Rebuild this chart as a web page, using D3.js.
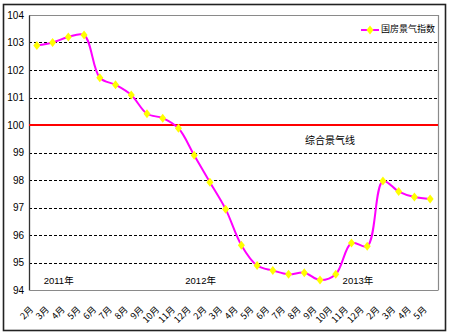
<!DOCTYPE html>
<html>
<head>
<meta charset="utf-8">
<script src="https://cdn.jsdelivr.net/npm/d3@7/dist/d3.min.js"></script>
<style>
  html, body { margin: 0; padding: 0; background: #fff; }
  svg { display: block; }
  text { font-family: Arial, "Liberation Sans", "Noto Sans CJK SC", sans-serif; fill: #000; }
</style>
</head>
<body>
<div id="chart"></div>
<script>
// Months in the series (January is merged into February each year)
const categories = [
  "2011-02","2011-03","2011-04","2011-05","2011-06","2011-07","2011-08","2011-09","2011-10","2011-11","2011-12",
  "2012-02","2012-03","2012-04","2012-05","2012-06","2012-07","2012-08","2012-09","2012-10","2012-11","2012-12",
  "2013-02","2013-03","2013-04","2013-05"
];
const monthLabels = [
  "2月","3月","4月","5月","6月","7月","8月","9月","10月","11月","12月",
  "2月","3月","4月","5月","6月","7月","8月","9月","10月","11月","12月",
  "2月","3月","4月","5月"
];
// 国房景气指数
const indexValues = [
  102.89, 103.0, 103.2, 103.27, 101.72, 101.46, 101.09, 100.41, 100.25, 99.88, 98.9,
  97.92, 96.94, 95.63, 94.89, 94.71, 94.57, 94.63, 94.36, 94.57, 95.71, 95.59,
  97.96, 97.58, 97.38, 97.31
];
const yTicks = [94, 95, 96, 97, 98, 99, 100, 101, 102, 103, 104];
const baseline = 100;
const seriesName = "国房景气指数";
const baselineName = "综合景气线";
const yearLabels = ["2011年", "2012年", "2013年"];
const yearStarts = ["2011-03", "2011-12", "2012-11"];

const W = 450, H = 336;
const plot = { left: 29, right: 438, top: 15, bottom: 290 };

const svg = d3.select("#chart").append("svg")
  .attr("width", W).attr("height", H);

svg.append("rect").attr("width", W).attr("height", H).attr("fill", "#fff");

// outer frame
svg.append("rect")
  .attr("x", 3.5).attr("y", 4.5).attr("width", 442).attr("height", 326)
  .attr("fill", "none").attr("stroke", "#222").attr("stroke-width", 1.6);

const x = d3.scaleBand().domain(categories).range([plot.left, plot.right]);
const y = d3.scaleLinear().domain([94, 104]).range([plot.bottom, plot.top]);
const cx = c => x(c) + x.bandwidth() / 2;

// plot border (top / right)
svg.append("path")
  .attr("d", `M${plot.left},${plot.top + 0.5}H${plot.right + 0.5}V${plot.bottom}`)
  .attr("fill", "none").attr("stroke", "#8a8a8a").attr("stroke-width", 1.2);

// dashed gridlines
svg.append("g").selectAll("line")
  .data(yTicks.filter(v => v > 94 && v < 104 && v !== baseline))
  .join("line")
  .attr("x1", plot.left).attr("x2", plot.right)
  .attr("y1", d => Math.round(y(d)) + 0.5).attr("y2", d => Math.round(y(d)) + 0.5)
  .attr("stroke", "#000").attr("stroke-width", 1)
  .attr("stroke-dasharray", "3,2");

// y axis
const yAxis = d3.axisLeft(y).tickValues(yTicks).tickSize(0).tickPadding(5).tickFormat(d3.format("d"));
const gy = svg.append("g").attr("transform", `translate(${plot.left},0)`).call(yAxis);
gy.select(".domain").attr("stroke", "#333").attr("stroke-width", 1.3);
gy.selectAll("text").attr("font-size", 10).attr("fill", "#000")
  .style("font-family", "Arial, 'Liberation Sans', sans-serif");

// x axis
const xAxis = d3.axisBottom(x).tickSize(0).tickFormat((d, i) => monthLabels[i]);
const gx = svg.append("g").attr("transform", `translate(0,${plot.bottom})`).call(xAxis);
gx.select(".domain").attr("stroke", "#8a8a8a").attr("stroke-width", 1.2);
gx.selectAll("text")
  .attr("font-size", 9)
  .attr("text-anchor", "end")
  .attr("dy", 0)
  .attr("transform", "translate(-5,18) rotate(-45)")
  .style("font-family", "'Noto Sans CJK SC', sans-serif");

// baseline at 100
svg.append("line")
  .attr("x1", plot.left).attr("x2", plot.right)
  .attr("y1", y(baseline)).attr("y2", y(baseline))
  .attr("stroke", "#ff0000").attr("stroke-width", 2);

svg.append("text")
  .attr("x", 305).attr("y", y(99.4))
  .attr("font-size", 10).attr("dominant-baseline", "middle")
  .style("font-family", "'Noto Sans CJK SC', sans-serif")
  .text(baselineName);

// year labels
svg.append("g").selectAll("text")
  .data(yearLabels)
  .join("text")
  .attr("x", (d, i) => x(yearStarts[i]) - 1)
  .attr("y", y(94.3))
  .attr("font-size", 9.5)
  .attr("dominant-baseline", "middle")
  .text(d => d);

// series line
const data = categories.map((c, i) => ({ c, v: indexValues[i] }));
const line = d3.line().x(d => cx(d.c)).y(d => y(d.v)).curve(d3.curveCatmullRom.alpha(0.5));
svg.append("path").datum(data)
  .attr("d", line)
  .attr("fill", "none").attr("stroke", "#ff00ff").attr("stroke-width", 2);

// diamond markers
const diamond = "M0,-4.5L3.5,0L0,4.5L-3.5,0Z";
svg.append("g").selectAll("path")
  .data(data)
  .join("path")
  .attr("d", diamond)
  .attr("transform", d => `translate(${cx(d.c)},${y(d.v)})`)
  .attr("fill", "#ffff00");

// legend
const lg = svg.append("g").attr("transform", "translate(361,30)");
lg.append("line").attr("x1", 0).attr("x2", 18).attr("y1", 0).attr("y2", 0)
  .attr("stroke", "#ff00ff").attr("stroke-width", 2);
lg.append("path").attr("d", diamond).attr("transform", "translate(9,0)").attr("fill", "#ffff00");
lg.append("text").attr("x", 20).attr("y", 0).attr("dominant-baseline", "middle")
  .attr("font-size", 9)
  .style("font-family", "'Noto Sans CJK SC', sans-serif")
  .text(seriesName);
</script>
</body>
</html>
